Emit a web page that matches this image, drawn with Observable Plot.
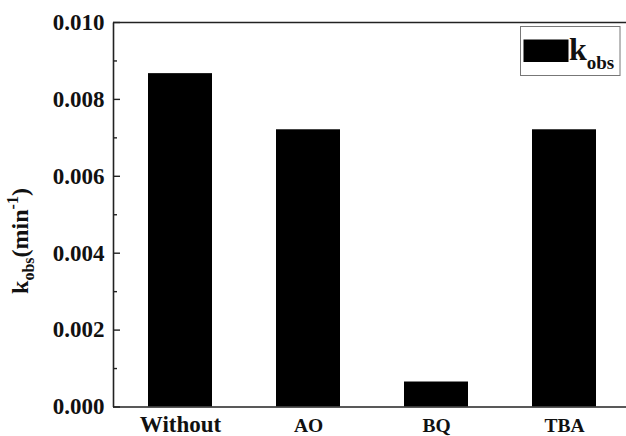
<!DOCTYPE html>
<html>
<head>
<meta charset="utf-8">
<script src="https://cdn.jsdelivr.net/npm/d3@7"></script>
<script src="https://cdn.jsdelivr.net/npm/@observablehq/plot@0.6"></script>
<style>
  html, body { margin: 0; padding: 0; background: #fff; }
  #chart svg { display: block; }
</style>
</head>
<body>
<div id="chart"></div>
<script>
// ---- data ----
const categories = ["Without", "AO", "BQ", "TBA"];
const kobs = [0.00867, 0.00721, 0.00065, 0.00721];
const yMajorTicks = [0, 0.002, 0.004, 0.006, 0.008, 0.010];
const yMinorTicks = [0.001, 0.003, 0.005, 0.007, 0.009];
const yTickLabels = ["0.000", "0.002", "0.004", "0.006", "0.008", "0.010"];
const legendLabel = "k";
const legendSub = "obs";

const data = categories.map((c, i) => ({cat: c, k: kobs[i]}));

const W = 626, H = 436;
const mL = 113, mR = 0, mT = 22, mB = 29.5;
const plotW = W - mL - mR;
const font = "Liberation Serif, Times New Roman, serif";
const axisColor = "#222";

const plot = Plot.plot({
  width: W,
  height: H,
  marginLeft: mL,
  marginRight: mR,
  marginTop: mT,
  marginBottom: mB,
  style: {fontFamily: font, fontWeight: "bold", background: "#fff", color: "#111"},
  x: {domain: categories, paddingInner: 0.5, paddingOuter: 0.24, align: 0.54, axis: null},
  y: {domain: [0, 0.010], axis: null},
  marks: [
    Plot.barY(data, {x: "cat", y: "k", fill: "#000"}),
    Plot.ruleY([0, 0.010], {stroke: axisColor, strokeWidth: 1.6}),
    Plot.frame({fill: axisColor, stroke: null, insetLeft: -0.8, insetRight: plotW - 0.8}),
    Plot.ruleY(yMajorTicks, {stroke: axisColor, strokeWidth: 1.4, insetRight: plotW - 7}),
    Plot.ruleY(yMinorTicks, {stroke: axisColor, strokeWidth: 1.4, insetRight: plotW - 4}),
    Plot.axisY({
      ticks: yMajorTicks,
      tickSize: 0,
      tickPadding: 9,
      tickFormat: (d) => yTickLabels[yMajorTicks.indexOf(d)],
      fontSize: 23,
      fontWeight: "bold",
      label: null
    }),
    Plot.text(categories, {
      x: (d) => d,
      frameAnchor: "bottom",
      lineAnchor: "bottom",
      dy: 24.5,
      fontSize: (d) => (d === "Without" ? 23 : 19.5),
      fontWeight: "bold",
      fill: "#111"
    })
  ]
});

document.getElementById("chart").appendChild(plot);

const svg = d3.select(plot);

// legend box
const lg = svg.append("g");
lg.append("rect").attr("x", 520.5).attr("y", 26.5).attr("width", 99.5).attr("height", 49)
  .attr("fill", "#fff").attr("stroke", "#777").attr("stroke-width", 1);
lg.append("rect").attr("x", 523.5).attr("y", 39.5).attr("width", 45).attr("height", 22.5)
  .attr("fill", "#000");
const lt = lg.append("text").attr("x", 569).attr("y", 60).attr("text-anchor", "start")
  .attr("font-family", font).attr("font-weight", "bold").attr("font-size", 32).attr("fill", "#111");
lt.append("tspan").text(legendLabel);
lt.append("tspan").attr("font-size", 19).attr("dy", 9).text(legendSub);

// y-axis title
const yl = svg.append("text")
  .attr("transform", "translate(28,241) rotate(-90)")
  .attr("text-anchor", "middle")
  .attr("font-family", font).attr("font-weight", "bold").attr("font-size", 24).attr("fill", "#111");
yl.append("tspan").text("k");
yl.append("tspan").attr("font-size", 16).attr("dy", 6).text("obs");
yl.append("tspan").attr("dy", -6).text("(min");
yl.append("tspan").attr("font-size", 16).attr("dy", -10).text("-1");
yl.append("tspan").attr("dy", 10).text(")");
</script>
</body>
</html>
